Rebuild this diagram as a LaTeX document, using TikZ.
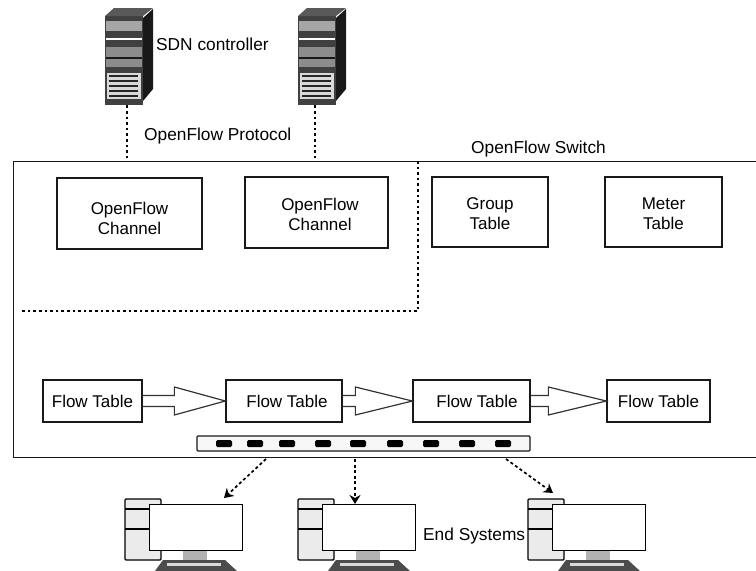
\documentclass[tikz,border=0pt]{standalone}
\usepackage{fontspec}
\setmainfont{Liberation Sans}
\usepackage{tikz}
\usetikzlibrary{arrows.meta, positioning, calc}
\newcommand{\flowarrow}[3]{%
    \draw [blockarrow] ($(#1.east)+(0,-5.5)$) -- ($(#2.west)+(-#3,-5.5)$) -- ($(#2.west)+(-#3,-14)$) -- (#2.west)
        -- ($(#2.west)+(-#3,14)$) -- ($(#2.west)+(-#3,5.5)$) -- ($(#1.east)+(0,5.5)$);
}
\tikzset{
    tablebox/.style={rectangle, draw=black!90, line width=1.3pt, fill=white, text centered, align=center, font=\fontsize{17}{20}\selectfont, inner sep=0pt},
    label/.style={font=\fontsize{17.3}{20}\selectfont, inner sep=0pt},
    blockarrow/.style={draw=black!80, line width=1.2pt, line join=miter},
    dotline/.style={line width=1.9pt, dash pattern=on 2.6pt off 3pt},
    endarrow/.style={line width=1.7pt, dash pattern=on 3pt off 2.6pt, -{Stealth[length=9pt, width=11pt]}},
    slot/.style={rectangle, fill=black, rounded corners=1.5pt, minimum width=16pt, minimum height=7pt, inner sep=0pt},
    server/.pic={
        \fill[black!90] (38,3) -- (48,-6) -- (48,74) -- (38,86) -- cycle;
        \node (-box) [rectangle, fill=black!75, minimum width=38pt, minimum height=89pt, inner sep=0pt, anchor=north west] at (0,1) {};
        \fill[black!65] (0,1) -- (9,-7) -- (48,-7) -- (38,1) -- cycle;
        \fill[black!35] (1,6) rectangle (37,16);
        \fill[white] (1,23) rectangle (37,25);
        \fill[black!45] (1,32) rectangle (37,52);
        \fill[black!90] (1,42) rectangle (37,44);
        \fill[black!15] (2,58) rectangle (36,84);
        \foreach \ly in {61,66,71,76,81} {
            \draw[black!85, line width=1.6pt] (4,\ly) -- (33,\ly);
        }
    },
    computer/.pic={
        \draw[line width=1.2pt, fill=black!8, rounded corners=1pt] (0,0) rectangle (36,61);
        \draw[line width=1.2pt] (0,10) -- (24,10) (0,30) -- (24,30);
        \fill[black!30] (58,50) rectangle (82,62);
        \fill[black!70] (30,72) -- (38,61) -- (100,61) -- (112,72) -- cycle;
        \fill[black!15] (42,64) rectangle (96,67);
        \node (-screen) [rectangle, draw=black, line width=1.4pt, fill=white, minimum width=93pt, minimum height=46pt, inner sep=0pt, anchor=north west] at (24,5) {};
    }
}
\begin{document}
\begin{tikzpicture}[x=1pt, y=-1pt]
    \useasboundingbox (0,0) rectangle (756,571);
    % Switch frame
    \node (switch) [rectangle, draw=black!90, line width=1.3pt, minimum width=744pt, minimum height=296pt, inner sep=0pt, anchor=north west] at (12.5,161) {};
    % Controllers
    \pic (ctrlA) at (105,15) {server};
    \pic (ctrlB) at (298,15) {server};
    \node (ctrlLabel) [label, anchor=west] at (156,44) {SDN controller};
    \node (protoLabel) [label, anchor=west] at (144,136) {OpenFlow Protocol};
    \node (switchLabel) [label, anchor=west] at (471,149) {OpenFlow Switch};
    % Tables
    \node (chanA) [tablebox, minimum width=145pt, minimum height=71pt] at (129.5,213.5) {\rule{0pt}{22pt}OpenFlow\\Channel};
    \node (chanB) [tablebox, minimum width=143pt, minimum height=71pt] at (316.5,212.5) {\rule{0pt}{16pt}\hspace*{7pt}OpenFlow\\\hspace*{7pt}Channel};
    \node (group) [tablebox, minimum width=116pt, minimum height=70pt] at (490,212) {\rule{0pt}{16pt}Group\\Table};
    \node (meter) [tablebox, minimum width=117pt, minimum height=70pt] at (663.5,212) {\rule{0pt}{16pt}Meter\\Table};
    \node (flowA) [tablebox, minimum width=99pt, minimum height=42pt] at (92.5,401) {Flow Table};
    \node (flowB) [tablebox, minimum width=116pt, minimum height=42pt] at (284,401) {\hspace*{6pt}Flow Table};
    \node (flowC) [tablebox, minimum width=117pt, minimum height=42pt] at (471.5,401) {\hspace*{11pt}Flow Table};
    \node (flowD) [tablebox, minimum width=103pt, minimum height=42pt] at (658.5,401) {Flow Table};
    % Ports
    \node (ports) [rectangle, draw=black!90, line width=1.4pt, fill=black!3, rounded corners=1pt, minimum width=333pt, minimum height=15pt, inner sep=0pt] at (363.5,443.5) {};
    \foreach \px in {224,255,287,323,358,395,431,467,503} {
        \node [slot] at (\px,443.5) {};
    }
    % End systems
    \pic (hostA) at (125,499) {computer};
    \pic (hostB) at (298,499) {computer};
    \pic (hostC) at (528,499) {computer};
    \node (hostLabel) [label, anchor=west] at (423,536) {End Systems};
    % Dashed split
    \coordinate (splitTop) at (418,161);
    \coordinate (splitEnd) at (20,311);
    \draw [dotline] (splitTop) |- (splitEnd);
    % Arrows
    \draw [dotline] ([xshift=3pt]ctrlA-box.south) -- ([xshift=3pt]ctrlA-box.south |- switch.north);
    \draw [dotline] ([xshift=-2pt]ctrlB-box.south) -- ([xshift=-2pt]ctrlB-box.south |- switch.north);
    \flowarrow{flowA}{flowB}{51}
    \flowarrow{flowB}{flowC}{57}
    \flowarrow{flowC}{flowD}{58}
    \coordinate (outA) at (266,459);
    \coordinate (outB) at (355,459);
    \coordinate (outC) at (506,459);
    \draw [endarrow] (outA) -- (224,498);
    \draw [endarrow] (outB) -- (outB |- hostB-screen.north);
    \draw [endarrow] (outC) -- (553,493);
\end{tikzpicture}
\end{document}
